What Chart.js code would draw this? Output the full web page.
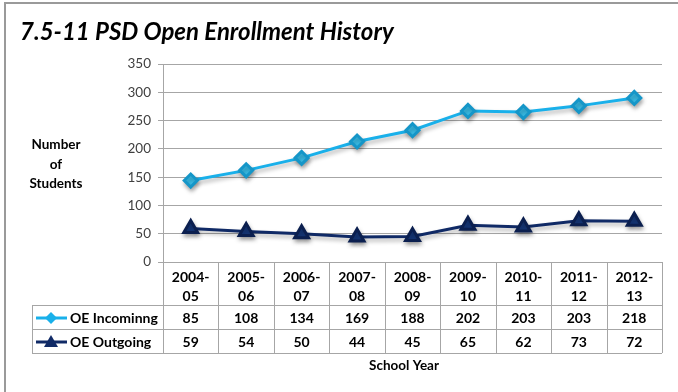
<!DOCTYPE html>
<html>
<head>
<meta charset="utf-8">
<script src="https://cdn.jsdelivr.net/npm/chart.js@4"></script>
<style>
  html, body { margin: 0; padding: 0; background: #fff; }
  #wrap { position: relative; width: 678px; height: 392px; overflow: hidden; }
  #frame { position: absolute; left: 4px; top: 2px; width: 700px; height: 420px;
           border-left: 2px solid #9a9a9a; border-top: 2px solid #9a9a9a; }
  canvas { position: absolute; left: 0; top: 0; }
</style>
</head>
<body>
<div id="wrap">
  <div id="frame"></div>
  <canvas id="chart" width="678" height="392"></canvas>
</div>
<script>
const years = [["2004-", "05"], ["2005-", "06"], ["2006-", "07"], ["2007-", "08"], ["2008-", "09"],
               ["2009-", "10"], ["2010-", "11"], ["2011-", "12"], ["2012-", "13"]];
const incoming = [85, 108, 134, 169, 188, 202, 203, 203, 218];
const outgoing = [59, 54, 50, 44, 45, 65, 62, 73, 72];
const yTicks = [0, 50, 100, 150, 200, 250, 300, 350];

const FONT = "Lato, 'Open Sans', sans-serif";
const LIGHT = "#19b0ea";
const NAVY = "#102a66";

// stacked lines: outgoing is the base, incoming sits on top of it
const datasets = [
  {
    label: "OE Outgoing",
    data: outgoing,
    borderColor: NAVY,
    backgroundColor: NAVY,
    borderWidth: 3,
    pointStyle: "triangle",
    pointRadius: 8,
    pointBorderColor: "#0b1f4f",
    pointBackgroundColor: "#163a80",
    fill: false,
    tension: 0
  },
  {
    label: "OE Incominng",
    data: incoming,
    borderColor: LIGHT,
    backgroundColor: LIGHT,
    borderWidth: 3,
    pointStyle: "rectRot",
    pointRadius: 6.5,
    pointBorderColor: "#1596c8",
    pointBackgroundColor: "#3cc6f2",
    fill: false,
    tension: 0
  }
];

const rows = [
  { name: "OE Incominng", values: incoming, color: LIGHT, marker: "diamond" },
  { name: "OE Outgoing", values: outgoing, color: NAVY, marker: "triangle" }
];

function drawMarker(ctx, kind, x, y, color) {
  ctx.fillStyle = color;
  ctx.beginPath();
  if (kind === "diamond") {
    ctx.moveTo(x, y - 6); ctx.lineTo(x + 6, y); ctx.lineTo(x, y + 6); ctx.lineTo(x - 6, y);
  } else {
    ctx.moveTo(x, y - 7); ctx.lineTo(x + 7, y + 5); ctx.lineTo(x - 7, y + 5);
  }
  ctx.closePath();
  ctx.fill();
}

// soft drop shadow under the lines and markers
const shadowPlugin = {
  id: "shadow",
  beforeDatasetsDraw(chart) {
    const ctx = chart.ctx;
    ctx.save();
    ctx.shadowColor = "rgba(0,0,0,0.3)";
    ctx.shadowBlur = 4;
    ctx.shadowOffsetX = 1;
    ctx.shadowOffsetY = 3;
  },
  afterDatasetsDraw(chart) {
    chart.ctx.restore();
  }
};

// title, axis captions and the data table under the x axis
const tablePlugin = {
  id: "dataTable",
  afterDraw(chart) {
    const ctx = chart.ctx;
    const area = chart.chartArea;
    const x = chart.scales.x;
    const step = area.width / years.length;
    const top = area.bottom;
    const headBottom = top + 43;
    const rowH = 24;
    const legendLeft = 32;
    const bottom = headBottom + rowH * rows.length;

    ctx.save();
    ctx.font = "bold italic 24px " + FONT;
    ctx.fillStyle = "#000";
    ctx.textAlign = "left";
    ctx.textBaseline = "alphabetic";
    ctx.fillText("7.5-11 PSD Open Enrollment History", 20, 40);

    ctx.font = "bold 13.5px " + FONT;
    ctx.textAlign = "center";
    ctx.textBaseline = "middle";
    ctx.fillText("Number", 56, 145);
    ctx.fillText("of", 56, 165);
    ctx.fillText("Students", 56, 184);
    ctx.fillText("School Year", 404, 366);

    // grid of the table
    ctx.strokeStyle = "#a6a6a6";
    ctx.lineWidth = 1;
    ctx.beginPath();
    for (let i = 0; i <= years.length; i++) {
      const gx = Math.round(area.left + step * i) + 0.5;
      ctx.moveTo(gx, top);
      ctx.lineTo(gx, bottom);
    }
    ctx.moveTo(legendLeft + 0.5, headBottom);
    ctx.lineTo(legendLeft + 0.5, bottom);
    for (let r = 0; r <= rows.length; r++) {
      const gy = Math.round(headBottom + rowH * r) + 0.5;
      ctx.moveTo(legendLeft, gy);
      ctx.lineTo(area.right, gy);
    }
    ctx.stroke();

    ctx.fillStyle = "#000";
    ctx.font = "bold 14px " + FONT;
    years.forEach((y, i) => {
      const cx = x.getPixelForValue(i);
      ctx.fillText(y[0], cx, top + 15);
      ctx.fillText(y[1], cx, top + 34);
    });

    rows.forEach((row, r) => {
      const cy = headBottom + rowH * r + rowH / 2 + 1;
      row.values.forEach((v, i) => {
        ctx.fillStyle = "#000";
        ctx.textAlign = "center";
        ctx.fillText(String(v), x.getPixelForValue(i), cy);
      });
      ctx.strokeStyle = row.color;
      ctx.lineWidth = 3;
      ctx.beginPath();
      ctx.moveTo(36, cy);
      ctx.lineTo(67, cy);
      ctx.stroke();
      drawMarker(ctx, row.marker, 51, cy, row.color);
      ctx.fillStyle = "#000";
      ctx.textAlign = "left";
      ctx.fillText(row.name, 70, cy);
    });
    ctx.restore();
  }
};

new Chart(document.getElementById("chart"), {
  type: "line",
  data: { labels: years.map(y => y.join("")), datasets },
  options: {
    responsive: false,
    animation: false,
    layout: { padding: { left: 0, top: 64, right: 16, bottom: 130 } },
    plugins: { legend: { display: false }, tooltip: { enabled: false } },
    scales: {
      x: { display: false, offset: true },
      y: {
        stacked: true,
        min: yTicks[0],
        max: yTicks[yTicks.length - 1],
        afterBuildTicks: axis => { axis.ticks = yTicks.map(v => ({ value: v })); },
        afterFit: axis => { axis.width = 163; },
        grid: { color: "#a6a6a6", lineWidth: 1, tickLength: 5 },
        border: { color: "#a6a6a6" },
        ticks: { color: "#404040", font: { family: FONT, size: 13.5 }, padding: 7 }
      }
    }
  },
  plugins: [shadowPlugin, tablePlugin]
});
</script>
</body>
</html>
